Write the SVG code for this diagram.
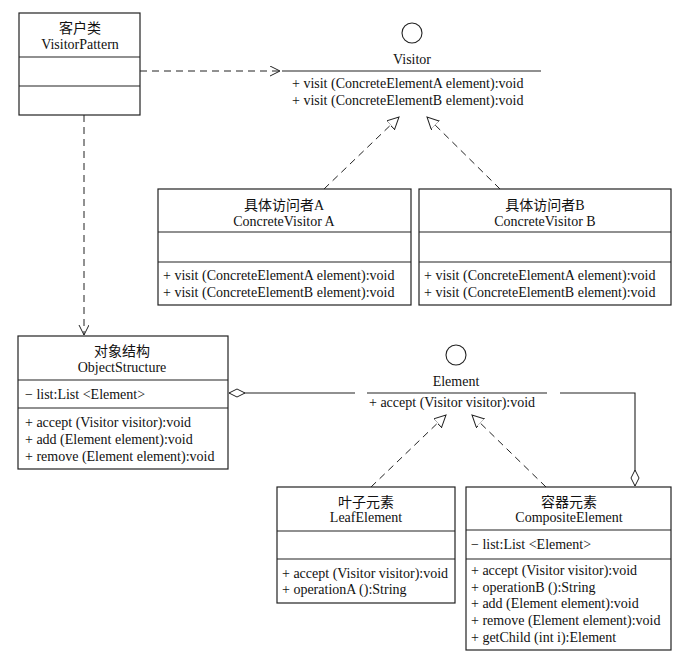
<svg xmlns="http://www.w3.org/2000/svg" width="679" height="657" viewBox="0 0 679 657">
<style>
text{font-family:"Liberation Serif","Noto Sans CJK SC",serif;font-size:14px;fill:#111}
.c{text-anchor:middle}
.b{fill:#fff;stroke:#222;stroke-width:1.2}
.l{stroke:#222;stroke-width:1.1;fill:none}
.d{stroke:#222;stroke-width:1;fill:none;stroke-dasharray:7,5}
</style>
<defs>
<marker id="open" markerWidth="12" markerHeight="12" refX="10" refY="5" orient="auto" markerUnits="userSpaceOnUse"><path d="M0,0 L10,5 L0,10" fill="none" stroke="#222"/></marker>
<marker id="tri" markerWidth="14" markerHeight="14" refX="12" refY="6" orient="auto" markerUnits="userSpaceOnUse"><path d="M0,0 L12,6 L0,12 Z" fill="#fff" stroke="#222"/></marker>
<marker id="dia" markerWidth="18" markerHeight="10" refX="16" refY="5" orient="auto" markerUnits="userSpaceOnUse"><path d="M0,5 L8,1 L16,5 L8,9 Z" fill="#fff" stroke="#222"/></marker>
</defs>
<rect width="679" height="657" fill="#fff"/>
<g id="connectors">
<line class="d" x1="140" y1="71" x2="280" y2="71" marker-end="url(#open)"/>
<line class="d" x1="84" y1="115" x2="84" y2="335" marker-end="url(#open)"/>
<line class="d" x1="324" y1="189" x2="399" y2="117" marker-end="url(#tri)"/>
<line class="d" x1="500" y1="189" x2="427" y2="117" marker-end="url(#tri)"/>
<line class="d" x1="371" y1="487" x2="446" y2="415" marker-end="url(#tri)"/>
<line class="d" x1="546" y1="487" x2="472" y2="415" marker-end="url(#tri)"/>
<path class="l" d="M355,393 L229,393" marker-end="url(#dia)"/>
<path class="l" d="M560,393 L635,393 L635,486" marker-end="url(#dia)"/>
</g>
<g id="visitorPattern">
<rect class="b" x="19" y="13" width="121" height="102"/>
<line class="l" x1="19" y1="57" x2="140" y2="57"/><line class="l" x1="19" y1="86" x2="140" y2="86"/>
<text class="c" x="80" y="33">客户类</text><text class="c" x="80" y="49">VisitorPattern</text>
</g>
<g id="visitor">
<circle class="l" cx="412" cy="33" r="10"/>
<text class="c" x="412" y="64">Visitor</text>
<line class="l" x1="282" y1="71" x2="541" y2="71"/>
<text x="292" y="88">+ visit (ConcreteElementA element):void</text>
<text x="292" y="105">+ visit (ConcreteElementB element):void</text>
</g>
<g id="concreteVisitorA">
<rect class="b" x="158" y="189" width="253" height="116"/>
<line class="l" x1="158" y1="232" x2="411" y2="232"/><line class="l" x1="158" y1="262" x2="411" y2="262"/>
<text class="c" x="284" y="210">具体访问者A</text><text class="c" x="284" y="226">ConcreteVisitor A</text>
<text x="163" y="280">+ visit (ConcreteElementA element):void</text>
<text x="163" y="297">+ visit (ConcreteElementB element):void</text>
</g>
<g id="concreteVisitorB">
<rect class="b" x="419" y="189" width="252" height="116"/>
<line class="l" x1="419" y1="232" x2="671" y2="232"/><line class="l" x1="419" y1="262" x2="671" y2="262"/>
<text class="c" x="545" y="210">具体访问者B</text><text class="c" x="545" y="226">ConcreteVisitor B</text>
<text x="424" y="280">+ visit (ConcreteElementA element):void</text>
<text x="424" y="297">+ visit (ConcreteElementB element):void</text>
</g>
<g id="objectStructure">
<rect class="b" x="18" y="336" width="210" height="133"/>
<line class="l" x1="18" y1="380" x2="228" y2="380"/><line class="l" x1="18" y1="408" x2="228" y2="408"/>
<text class="c" x="122" y="356">对象结构</text><text class="c" x="122" y="372">ObjectStructure</text>
<text x="25" y="399">− list:List &lt;Element&gt;</text>
<text x="25" y="427">+ accept (Visitor visitor):void</text>
<text x="25" y="444">+ add (Element element):void</text>
<text x="25" y="461">+ remove (Element element):void</text>
</g>
<g id="element">
<circle class="l" cx="456" cy="355" r="10"/>
<text class="c" x="456" y="386">Element</text>
<line class="l" x1="367" y1="393" x2="547" y2="393"/>
<text x="369" y="407">+ accept (Visitor visitor):void</text>
</g>
<g id="leafElement">
<rect class="b" x="277" y="487" width="178" height="116"/>
<line class="l" x1="277" y1="531" x2="455" y2="531"/><line class="l" x1="277" y1="559" x2="455" y2="559"/>
<text class="c" x="366" y="507">叶子元素</text><text class="c" x="366" y="522">LeafElement</text>
<text x="282" y="578">+ accept (Visitor visitor):void</text>
<text x="282" y="594">+ operationA ():String</text>
</g>
<g id="compositeElement">
<rect class="b" x="466" y="487" width="205" height="163"/>
<line class="l" x1="466" y1="530" x2="671" y2="530"/><line class="l" x1="466" y1="559" x2="671" y2="559"/>
<text class="c" x="569" y="507">容器元素</text><text class="c" x="569" y="522">CompositeElement</text>
<text x="471" y="549">− list:List &lt;Element&gt;</text>
<text x="471" y="575">+ accept (Visitor visitor):void</text>
<text x="471" y="592">+ operationB ():String</text>
<text x="471" y="608">+ add (Element element):void</text>
<text x="471" y="625">+ remove (Element element):void</text>
<text x="471" y="642">+ getChild (int i):Element</text>
</g>
</svg>
